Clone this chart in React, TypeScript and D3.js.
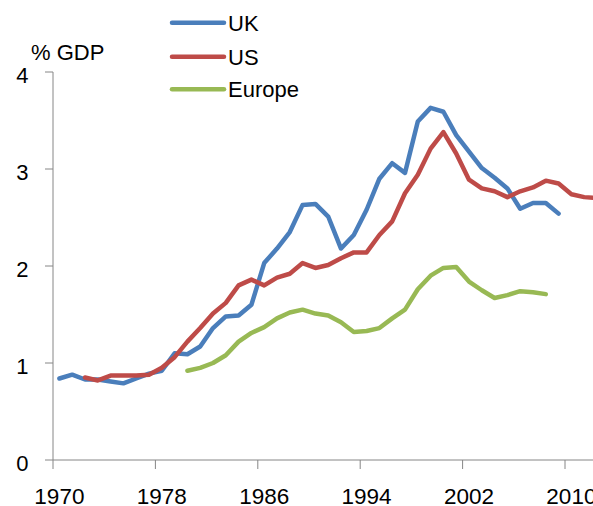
import * as d3 from 'd3';

// values, % of GDP, one per year
const ukStart = 1970;
const ukValues = [
  0.84, 0.88, 0.83, 0.83, 0.81, 0.79, 0.84, 0.89, 0.92, 1.1,
  1.09, 1.17, 1.36, 1.48, 1.49, 1.6, 2.03, 2.18, 2.35, 2.63,
  2.64, 2.51, 2.18, 2.32, 2.58, 2.9, 3.06, 2.96, 3.49, 3.63,
  3.59, 3.35, 3.18, 3.01, 2.91, 2.8, 2.59, 2.65, 2.65, 2.54,
];
const usStart = 1972;
const usValues = [
  0.85, 0.82, 0.87, 0.87, 0.87, 0.88, 0.95, 1.06, 1.22, 1.36,
  1.51, 1.62, 1.8, 1.86, 1.8, 1.88, 1.92, 2.03, 1.98, 2.01,
  2.08, 2.14, 2.14, 2.32, 2.46, 2.75, 2.94, 3.21, 3.38, 3.16,
  2.89, 2.8, 2.77, 2.71, 2.77, 2.81, 2.88, 2.85, 2.74, 2.71,
  2.7,
];
const europeStart = 1980;
const europeValues = [
  0.92, 0.95, 1.0, 1.08, 1.22, 1.31, 1.37, 1.46, 1.52, 1.55,
  1.51, 1.49, 1.42, 1.32, 1.33, 1.36, 1.46, 1.55, 1.76, 1.9,
  1.98, 1.99, 1.84, 1.75, 1.67, 1.7, 1.74, 1.73, 1.71,
];

const seriesNames = ['UK', 'US', 'Europe'];
const seriesColors = ['#4a7ebb', '#be4b48', '#98b954'];
const xTickYears = [1970, 1978, 1986, 1994, 2002, 2010];
const yTicks = [0, 1, 2, 3, 4];

const width = 593;
const height = 506;
const font = '"Liberation Sans", Arial, sans-serif';
const axisColor = '#868686';

function toPoints(start: number, values: number[]) {
  return values.map((v, i) => ({ year: start + i, value: v }));
}

export default function App() {
  const series = [
    toPoints(ukStart, ukValues),
    toPoints(usStart, usValues),
    toPoints(europeStart, europeValues),
  ];

  // category axis: a year sits in the middle of its slot, ticks between slots
  const x = d3.scaleLinear().domain([1969.5, 2013.5]).range([53, 616.2]);
  const y = d3.scaleLinear().domain([0, 4]).range([460, 72]);

  const line = d3
    .line<{ year: number; value: number }>()
    .x((d) => x(d.year))
    .y((d) => y(d.value));

  const legendY = [22.7, 56.7, 89.3];

  return (
    <svg
      width={width}
      height={height}
      style={{ position: 'absolute', left: 0, top: 0, background: '#fff' }}
    >
      {/* y axis */}
      <line x1={x(1969.5)} x2={x(1969.5)} y1={y(4)} y2={y(0)} stroke={axisColor} />
      {yTicks.map((t) => (
        <g key={t}>
          <line x1={x(1969.5) - 8} x2={x(1969.5)} y1={y(t)} y2={y(t)} stroke={axisColor} />
          <text
            x={28.5}
            y={y(t) + 11}
            textAnchor="end"
            fontFamily={font}
            fontSize={22}
            fill="#000"
          >
            {t}
          </text>
        </g>
      ))}
      <text x={31} y={60} fontFamily={font} fontSize={22} fill="#000">
        % GDP
      </text>

      {/* x axis */}
      <line x1={x(1969.5)} x2={width} y1={y(0)} y2={y(0)} stroke={axisColor} />
      {xTickYears.map((yr) => (
        <g key={yr}>
          <line
            x1={x(yr - 0.5)}
            x2={x(yr - 0.5)}
            y1={y(0)}
            y2={y(0) + 9}
            stroke={axisColor}
          />
          <text
            x={x(yr)}
            y={504}
            textAnchor="middle"
            fontFamily={font}
            fontSize={22.5}
            fill="#000"
          >
            {yr}
          </text>
        </g>
      ))}

      {series.map((s, i) => (
        <path
          key={seriesNames[i]}
          d={line(s) || ''}
          fill="none"
          stroke={seriesColors[i]}
          strokeWidth={4.5}
          strokeLinejoin="round"
          strokeLinecap="round"
        />
      ))}

      {/* legend */}
      {seriesNames.map((name, i) => (
        <g key={name}>
          <line
            x1={172}
            x2={224}
            y1={legendY[i]}
            y2={legendY[i]}
            stroke={seriesColors[i]}
            strokeWidth={4.5}
            strokeLinecap="round"
          />
          <text
            x={228}
            y={legendY[i] + 8}
            fontFamily={font}
            fontSize={22}
            fill="#000"
          >
            {name}
          </text>
        </g>
      ))}
    </svg>
  );
}
